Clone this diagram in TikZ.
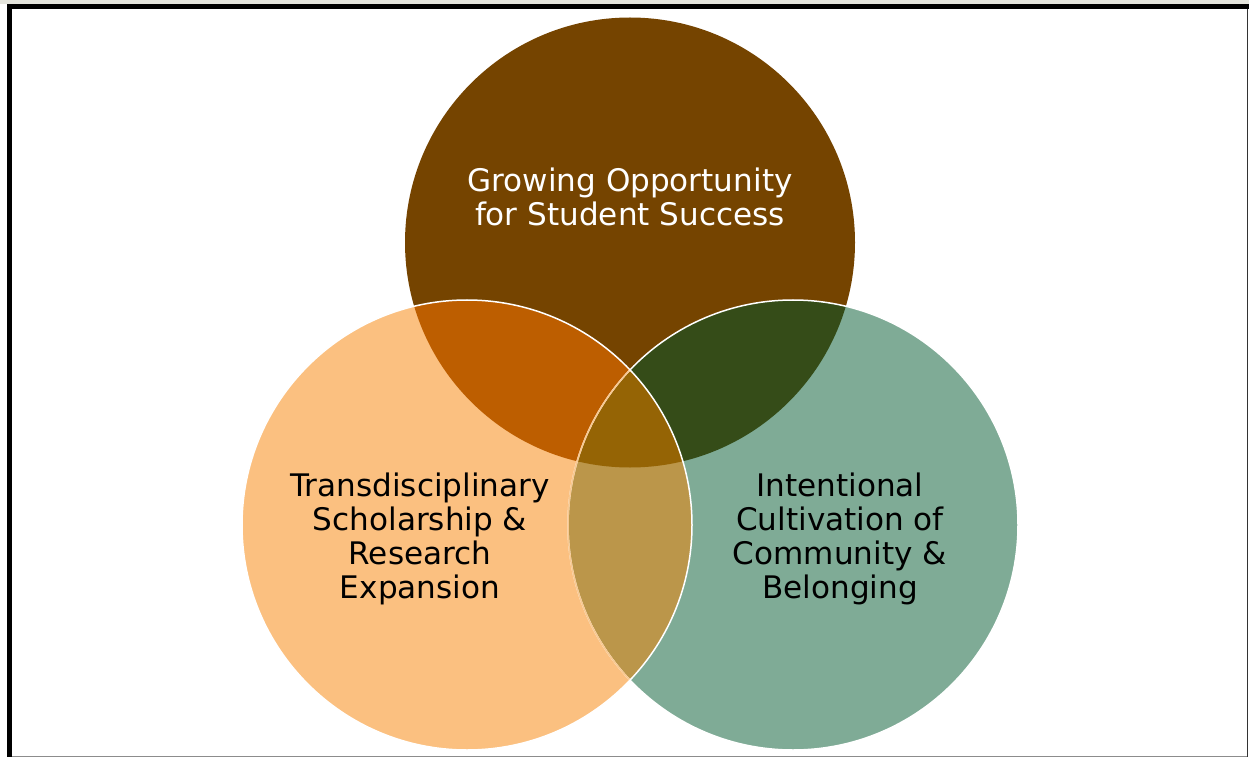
\documentclass[tikz,border=0pt]{standalone}
\usepackage{fontspec}
\setmainfont{DejaVu Sans}
\definecolor{topc}{HTML}{754400}
\definecolor{leftc}{HTML}{FBC080}
\definecolor{rightc}{HTML}{7FAB96}
\definecolor{tlc}{HTML}{BD5E00}
\definecolor{trc}{HTML}{354C18}
\definecolor{lrc}{HTML}{BB964A}
\definecolor{ctrc}{HTML}{956405}
\definecolor{faintline}{HTML}{F8C890}
\definecolor{stripc}{HTML}{E4E4DC}
\tikzset{
  lbl/.style={align=center, font=\fontsize{31.2}{34}\selectfont, inner sep=0pt},
  ring/.style={line width=1.5bp}
}
\begin{document}
\begin{tikzpicture}[x=1bp,y=-1bp]
\useasboundingbox (0,0) rectangle (1249,757);
\fill[white] (0,0) rectangle (1249,757);
% frame
\fill[stripc] (0,0) rectangle (1249,4);
\fill[black] (7,4) rectangle (1249,9.3);
\fill[black] (7,4) rectangle (12,757);
\fill[black!80] (1246.6,9) rectangle (1248,757);
\fill[black!45] (12,755.6) rectangle (1247,757);
% centres
\coordinate (T) at (630,242.5);
\coordinate (L) at (467,525);
\coordinate (R) at (793,525);
% base fills
\fill[topc] (T) circle (225bp);
\fill[leftc] (L) circle (225bp);
\fill[rightc] (R) circle (225bp);
\begin{scope}
  \clip (T) circle (225bp);
  \fill[tlc] (L) circle (225bp);
  \fill[trc] (R) circle (225bp);
\end{scope}
\begin{scope}
  \clip (L) circle (225bp);
  \fill[lrc] (R) circle (225bp);
  \clip (T) circle (225bp);
  \fill[ctrc] (R) circle (225bp);
\end{scope}
% outlines
\draw[ring, white] (R) circle (225bp);
\begin{scope}
  \clip (L) circle (225bp);
  \draw[ring, faintline] (R) circle (225bp);
\end{scope}
\draw[ring, white] (L) circle (225bp);
% labels
\node[lbl, text=white] (tl) at (630,197) {Growing Opportunity\\for Student Success};
\node[lbl, text=black] (ll) at (420,539) {Transdisciplinary\\Scholarship \&\\Research\\Expansion};
\node[lbl, text=black] (rl) at (840,539) {Intentional\\Cultivation of\\Community \&\\Belonging};
\end{tikzpicture}
\end{document}
